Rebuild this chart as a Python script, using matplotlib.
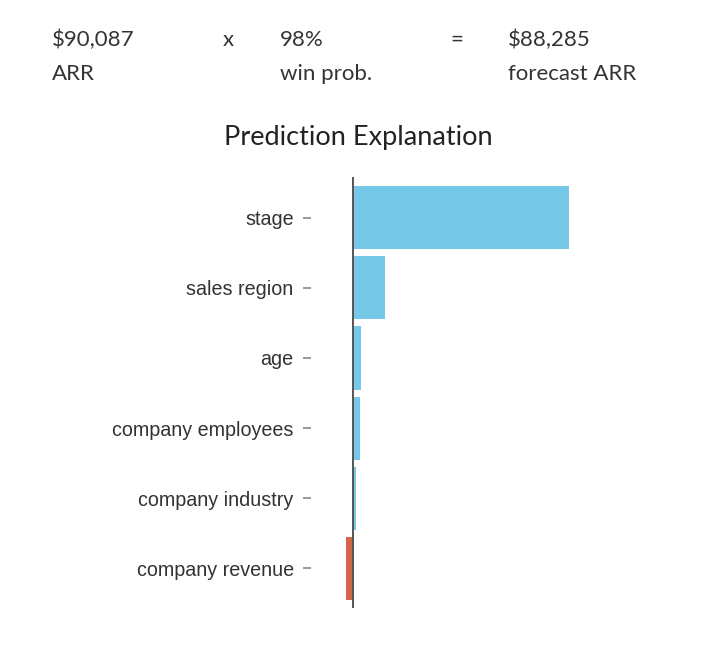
import matplotlib
matplotlib.use("Agg")
import matplotlib.pyplot as plt

# data
features = ["stage", "sales region", "age", "company employees",
            "company industry", "company revenue"]
contrib = [0.430, 0.064, 0.016, 0.014, 0.005, -0.014]

header_top = ["$90,087", "x", "98%", "=", "$88,285"]
header_bottom = ["ARR", "", "win prob.", "", "forecast ARR"]

BLUE = "#76C8E9"
RED = "#D2654A"


def main():
    fig = plt.figure(figsize=(7.13, 6.55), dpi=100)

    # header line (value x prob = forecast)
    xs = [52, 223, 280, 450, 508]
    for x, top, bot in zip(xs, header_top, header_bottom):
        fig.text(x / 713, 1 - 40 / 655, top, fontsize=16, family="Lato",
                 color="#333333", va="center", ha="left")
        if bot:
            fig.text(x / 713, 1 - 74 / 655, bot, fontsize=16, family="Lato",
                     color="#333333", va="center", ha="left")

    fig.text(358 / 713, 1 - 138 / 655, "Prediction Explanation",
             fontsize=19.5, family="Lato", color="#222222",
             ha="center", va="center")

    ax = fig.add_axes([311 / 713, 47 / 655, 289 / 713, 431 / 655])
    pos = list(range(len(features)))
    colors = [BLUE if v >= 0 else RED for v in contrib]
    ax.barh(pos, contrib, height=0.9, color=colors, zorder=2)
    ax.axvline(0, color="#555555", lw=1.4, zorder=3)

    ax.set_ylim(5.565, -0.58)
    ax.set_xlim(-42 / 502, 247 / 502)
    ax.set_yticks(pos)
    ax.set_yticklabels(features, family="Liberation Sans", fontsize=14.2,
                       color="#333333")
    ax.tick_params(axis="y", length=6, width=1.2, color="#888888", pad=6.5)
    ax.set_xticks([])
    for s in ax.spines.values():
        s.set_visible(False)

    fig.savefig("out.png", dpi=100, facecolor="white")


if __name__ == "__main__":
    main()
